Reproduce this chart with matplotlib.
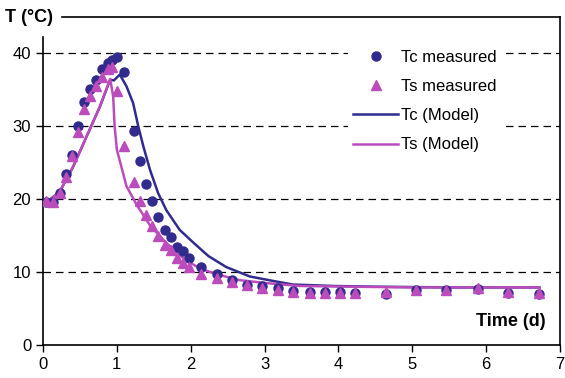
import matplotlib
matplotlib.use("Agg")
import matplotlib.pyplot as plt

plt.rcParams['font.family'] = ['Liberation Sans', 'DejaVu Sans']

# measured data (days, deg C)
t_meas = [0.04, 0.14, 0.23, 0.31, 0.39, 0.48, 0.56, 0.64, 0.72, 0.80, 0.88, 0.93,
          1.00, 1.09, 1.23, 1.31, 1.40, 1.48, 1.56, 1.65, 1.73, 1.81, 1.90, 1.98,
          2.14, 2.35, 2.56, 2.76, 2.96, 3.18, 3.38, 3.61, 3.82, 4.02, 4.23, 4.64,
          5.05, 5.46, 5.89, 6.30, 6.72]
tc_meas = [19.6, 19.6, 20.8, 23.4, 26.1, 30.0, 33.4, 35.1, 36.3, 37.8, 38.7, 39.1,
           39.5, 37.4, 29.4, 25.2, 22.1, 19.7, 17.5, 15.8, 14.8, 13.5, 12.9, 11.9,
           10.7, 9.75, 8.9, 8.3, 8.1, 7.8, 7.4, 7.3, 7.3, 7.3, 7.2, 7.0,
           7.5, 7.5, 7.7, 7.2, 7.0]
ts_meas = [19.7, 19.6, 20.8, 23.1, 25.9, 29.2, 32.4, 34.2, 35.5, 36.8, 37.9, 38.2,
           34.8, 27.3, 22.3, 19.8, 17.9, 16.3, 15.0, 13.7, 13.0, 12.0, 11.3, 10.7,
           9.75, 9.2, 8.6, 8.3, 7.8, 7.6, 7.3, 7.2, 7.2, 7.2, 7.2, 7.3,
           7.5, 7.5, 7.8, 7.3, 7.1]

# model curves
t_tc_mod = [0.03, 0.09, 0.23, 0.41, 0.59, 0.77, 0.91, 0.96, 1.04, 1.13, 1.22, 1.29,
            1.36, 1.45, 1.56, 1.67, 1.85, 2.03, 2.24, 2.48, 2.80, 3.11, 3.38, 3.92,
            4.5, 5.5, 6.72]
tc_mod = [19.7, 19.9, 21.1, 24.5, 28.6, 32.7, 36.4, 36.3, 37.1, 35.5, 33.2, 30.0,
          27.2, 24.0, 20.8, 18.5, 15.8, 14.1, 12.2, 10.7, 9.4, 8.8, 8.3, 8.1,
          8.0, 7.9, 7.9]
t_ts_mod = [0.03, 0.09, 0.23, 0.41, 0.59, 0.77, 0.91, 0.95, 0.97, 1.00, 1.13, 1.27,
            1.45, 1.67, 1.90, 2.12, 2.39, 2.66, 3.02, 3.47, 4.15, 5.0, 6.72]
ts_mod = [19.7, 19.9, 21.1, 24.5, 28.6, 32.7, 36.5, 34.1, 30.0, 26.8, 21.8, 19.2,
          16.4, 14.0, 11.9, 10.5, 9.6, 8.9, 8.5, 8.1, 8.0, 7.9, 7.9]

c_tc = '#302b8c'
c_ts = '#bc4cbc'

fig = plt.figure(figsize=(5.65, 3.78), dpi=100)
ax = fig.add_axes([43/565, 1-345/378, 517/565, 328/378])

l1, = ax.plot(t_tc_mod, tc_mod, color=c_tc, lw=1.8, label='Tc (Model)', zorder=3)
l2, = ax.plot(t_ts_mod, ts_mod, color=c_ts, lw=1.8, label='Ts (Model)', zorder=3)
m1, = ax.plot(t_meas, tc_meas, 'o', color=c_tc, ms=6.5, label='Tc measured', zorder=4)
m2, = ax.plot(t_meas, ts_meas, '^', color=c_ts, ms=7, label='Ts measured', zorder=5)

ax.set_xlim(0, 7)
ax.set_ylim(0, 45)
ax.set_xticks(range(8))
ax.set_yticks([0, 10, 20, 30, 40])
ax.tick_params(labelsize=12, direction='out', length=5, width=1)
for y in [10, 20, 30, 40]:
    ax.axhline(y, color='black', lw=0.9, ls=(0, (6, 4)), zorder=1)

ax.spines['left'].set_bounds(0, 42.2)
ax.spines['top'].set_bounds(0.26, 7)
for s in ax.spines.values():
    s.set_linewidth(1.2)

fig.text(5/565, 1-17/378, 'T (\u00b0C)', fontsize=13, fontweight='bold', va='center', ha='left')
ax.text(6.8, 3.2, 'Time (d)', fontsize=13, fontweight='bold', va='center', ha='right')

leg = ax.legend(handles=[m1, m2, l1, l2], loc='upper left', bbox_to_anchor=(305/517, 1-28/328),
                frameon=True, fontsize=12, handlelength=2.7, labelspacing=0.85,
                handletextpad=0.2, borderpad=0.3, borderaxespad=0)
leg.get_frame().set_edgecolor('none')
leg.get_frame().set_facecolor('white')
leg.get_frame().set_alpha(1)
leg.get_frame().set_boxstyle('square', pad=0)
leg.set_zorder(6)

fig.savefig('out.png', dpi=100)
